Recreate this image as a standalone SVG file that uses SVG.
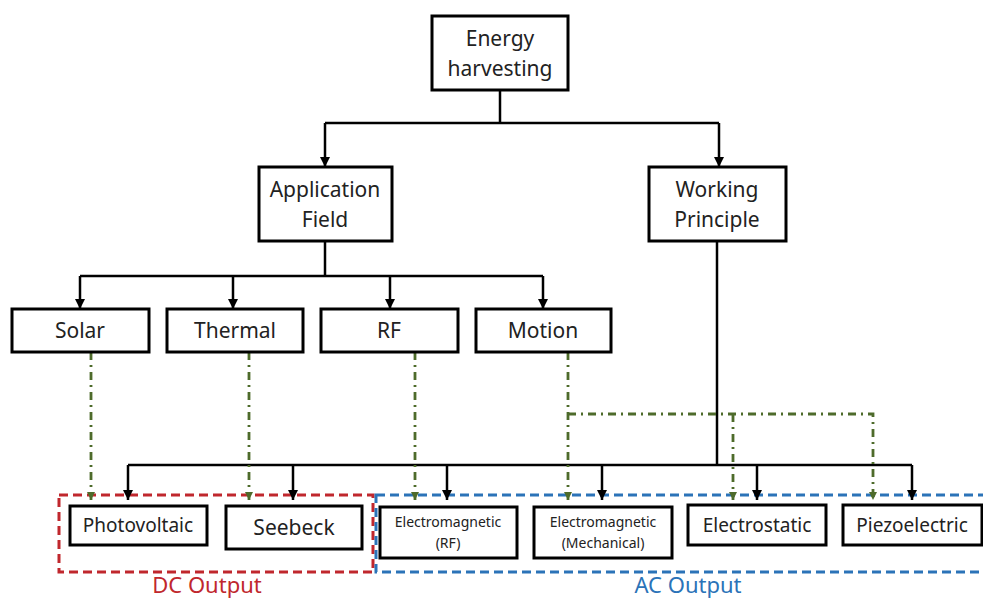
<svg xmlns="http://www.w3.org/2000/svg" width="983" height="599" viewBox="0 0 983 599">
<defs>
<style>
.box{fill:#fff;stroke:#000;stroke-width:3}
.t{font-family:"Noto Sans","Open Sans",sans-serif;fill:#222;text-anchor:middle}
.ln{fill:none;stroke:#000;stroke-width:2.5}
.gr{fill:none;stroke:#4e6b2b;stroke-width:2.8;stroke-dasharray:8 5 2 5}
</style>
<marker id="ab" viewBox="0 0 10 10" refX="10" refY="5" markerWidth="4" markerHeight="4" orient="auto" markerUnits="strokeWidth"><path d="M0,0 L10,5 L0,10 z" fill="#000"/></marker>
<marker id="ag" viewBox="0 0 10 10" refX="10" refY="5" markerWidth="3" markerHeight="3" orient="auto" markerUnits="strokeWidth"><path d="M0,0 L10,5 L0,10 z" fill="#4e6b2b"/></marker>
</defs>
<rect width="983" height="599" fill="#fff"/>
<g id="groups">
<rect x="59" y="495" width="314" height="77" fill="none" stroke="#c0272d" stroke-width="3" stroke-dasharray="9 5"/>
<rect x="376" y="495" width="620" height="77" fill="none" stroke="#2b73b8" stroke-width="3" stroke-dasharray="9 5"/>
<text class="t" x="207" y="593" font-size="22" style="fill:#c0272d">DC Output</text>
<text class="t" x="688" y="593" font-size="22" style="fill:#2b73b8">AC Output</text>
</g>
<g id="connectors">
<path class="ln" d="M500,90 V123"/>
<path class="ln" d="M325,123 H719"/>
<path class="ln" d="M325,123 V167" marker-end="url(#ab)"/>
<path class="ln" d="M719,123 V167" marker-end="url(#ab)"/>
<path class="ln" d="M325,241 V276"/>
<path class="ln" d="M80,276 H543"/>
<path class="ln" d="M80,276 V309" marker-end="url(#ab)"/>
<path class="ln" d="M233,276 V309" marker-end="url(#ab)"/>
<path class="ln" d="M390,276 V309" marker-end="url(#ab)"/>
<path class="ln" d="M543,276 V309" marker-end="url(#ab)"/>
<path class="ln" d="M717,241 V465"/>
<path class="ln" d="M128,465 H912"/>
<path class="ln" d="M128,465 V500" marker-end="url(#ab)"/>
<path class="ln" d="M293,465 V500" marker-end="url(#ab)"/>
<path class="ln" d="M447,465 V500" marker-end="url(#ab)"/>
<path class="ln" d="M602,465 V500" marker-end="url(#ab)"/>
<path class="ln" d="M757,465 V500" marker-end="url(#ab)"/>
<path class="ln" d="M912,465 V500" marker-end="url(#ab)"/>
<path class="gr" d="M91,352 V500" marker-end="url(#ag)"/>
<path class="gr" d="M249,352 V500" marker-end="url(#ag)"/>
<path class="gr" d="M415,352 V500" marker-end="url(#ag)"/>
<path class="gr" d="M568,352 V500" marker-end="url(#ag)"/>
<path class="gr" d="M568,414 H873 V500" marker-end="url(#ag)"/>
<path class="gr" d="M733,414 V500" marker-end="url(#ag)"/>
</g>
<g id="energy"><rect class="box" x="432" y="16" width="136" height="74"/><text class="t" x="500" y="46" font-size="21">Energy</text><text class="t" x="500" y="76" font-size="21">harvesting</text></g>
<g id="appfield"><rect class="box" x="259" y="167" width="133" height="74"/><text class="t" x="325" y="197" font-size="21">Application</text><text class="t" x="325" y="227" font-size="21">Field</text></g>
<g id="working"><rect class="box" x="649" y="167" width="137" height="74"/><text class="t" x="717" y="197" font-size="21">Working</text><text class="t" x="717" y="227" font-size="21">Principle</text></g>
<g id="solar"><rect class="box" x="12" y="309" width="137" height="43"/><text class="t" x="80" y="338" font-size="21">Solar</text></g>
<g id="thermal"><rect class="box" x="167" y="309" width="136" height="43"/><text class="t" x="235" y="338" font-size="21">Thermal</text></g>
<g id="rf"><rect class="box" x="321" y="309" width="137" height="43"/><text class="t" x="389" y="338" font-size="21">RF</text></g>
<g id="motion"><rect class="box" x="476" y="309" width="135" height="43"/><text class="t" x="543" y="338" font-size="21">Motion</text></g>
<g id="photovoltaic"><rect class="box" x="70" y="506" width="137" height="39"/><text class="t" x="138" y="532" font-size="19">Photovoltaic</text></g>
<g id="seebeck"><rect class="box" x="226" y="506" width="136" height="43"/><text class="t" x="294" y="535" font-size="21">Seebeck</text></g>
<g id="em-rf"><rect class="box" x="380" y="507" width="137" height="51"/><text class="t" x="448" y="527" font-size="14">Electromagnetic</text><text class="t" x="448" y="548" font-size="14">(RF)</text></g>
<g id="em-mech"><rect class="box" x="534" y="507" width="138" height="51"/><text class="t" x="603" y="527" font-size="14">Electromagnetic</text><text class="t" x="603" y="548" font-size="14">(Mechanical)</text></g>
<g id="electrostatic"><rect class="box" x="688" y="505" width="138" height="40"/><text class="t" x="757" y="532" font-size="19">Electrostatic</text></g>
<g id="piezo"><rect class="box" x="843" y="505" width="139" height="40"/><text class="t" x="912" y="532" font-size="19">Piezoelectric</text></g>
</svg>
